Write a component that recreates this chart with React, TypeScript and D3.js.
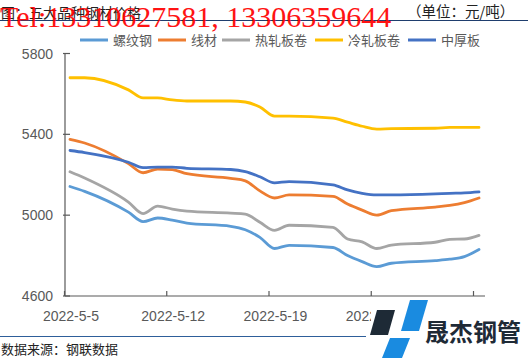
import React from "react";
import * as d3 from "d3";

const dates = [
  "2022-05-05", "2022-05-06", "2022-05-09", "2022-05-10", "2022-05-11", "2022-05-12", "2022-05-13",
  "2022-05-16", "2022-05-17", "2022-05-18", "2022-05-19", "2022-05-20",
  "2022-05-23", "2022-05-24", "2022-05-25", "2022-05-26", "2022-05-27",
  "2022-05-30", "2022-05-31", "2022-06-01", "2022-06-02",
];
const rebar = [5142, 5118, 5015, 4968, 4986, 4975, 4961, 4945, 4928, 4890, 4835, 4851, 4840, 4800, 4770, 4745, 4762, 4775, 4782, 4795, 4830];
const wire = [5375, 5357, 5255, 5210, 5228, 5225, 5205, 5182, 5170, 5120, 5085, 5100, 5093, 5055, 5025, 5000, 5022, 5040, 5048, 5062, 5085];
const hotRolled = [5215, 5184, 5065, 5008, 5045, 5030, 5020, 5010, 5005, 4965, 4925, 4950, 4940, 4882, 4868, 4835, 4852, 4866, 4880, 4882, 4900];
const coldRolled = [5680, 5680, 5620, 5580, 5580, 5570, 5565, 5565, 5560, 5535, 5490, 5490, 5480, 5460, 5440, 5426, 5428, 5430, 5434, 5434, 5434];
const plate = [5320, 5310, 5262, 5235, 5238, 5238, 5232, 5226, 5215, 5190, 5160, 5166, 5150, 5125, 5108, 5100, 5100, 5105, 5108, 5110, 5115];

const seriesNames = ["螺纹钢", "线材", "热轧板卷", "冷轧板卷", "中厚板"];
const seriesValues = [rebar, wire, hotRolled, coldRolled, plate];
const colors = ["#5B9BD5", "#ED7D31", "#A5A5A5", "#FFC000", "#4472C4"];
const yTicks = [4600, 5000, 5400, 5800];
const xTickDates = ["2022-05-05", "2022-05-12", "2022-05-19", "2022-05-26", "2022-06-02"];
const xTickLabels = ["2022-5-5", "2022-5-12", "2022-5-19", "2022-5-26", ""];

const parse = d3.timeParse("%Y-%m-%d");

export default function App() {
  const W = 528, H = 358;
  const x = d3.scaleTime()
    .domain([parse("2022-05-05")!, parse("2022-06-02")!])
    .range([70, 479]);
  const y = d3.scaleLinear().domain([4600, 5800]).range([296, 53.5]);
  const line = d3.line<number>()
    .x((_, i) => x(parse(dates[i])!))
    .y((v) => y(v))
    .curve(d3.curveMonotoneX);

  const axisColor = "#595959";
  const textColor = "#595959";
  const legendX = [80, 158, 222, 315, 408];

  return (
    <svg width={W} height={H} style={{ position: "absolute", left: 0, top: 0, background: "#fff" }}
      fontFamily="'Liberation Sans', Arial, sans-serif">
      <rect x={0} y={0} width={W} height={H} fill="#fff" />
      {/* title */}
      <text x={1} y={18} fontSize={14} fill="#222" fontFamily="'Noto Sans CJK SC', sans-serif">图：五大品种钢材价格</text>
      <text x={407} y={17} fontSize={14.5} fill="#222" fontFamily="'Noto Sans CJK SC', sans-serif">（单位：元/吨）</text>
      <line x1={0} x2={W} y1={20.5} y2={20.5} stroke="#1F3E6E" strokeWidth={1.2} />

      {/* legend */}
      {seriesNames.map((n, i) => (
        <g key={n}>
          <line x1={legendX[i]} x2={legendX[i] + 28} y1={40} y2={40} stroke={colors[i]} strokeWidth={3} />
          <text x={legendX[i] + 33} y={45} fontSize={13} fill={textColor} fontFamily="'Noto Sans CJK SC', sans-serif">{n}</text>
        </g>
      ))}

      {/* y axis */}
      <line x1={65} x2={65} y1={y(5800)} y2={y(4600)} stroke={axisColor} strokeWidth={1.2} />
      {yTicks.map((t) => (
        <g key={t}>
          <line x1={63} x2={70} y1={y(t)} y2={y(t)} stroke={axisColor} strokeWidth={1.2} />
          <text x={53} y={y(t) + 5} fontSize={14} fill={textColor} textAnchor="end">{t}</text>
        </g>
      ))}

      {/* x axis */}
      <line x1={65} x2={485} y1={y(4600)} y2={y(4600)} stroke={axisColor} strokeWidth={1.2} />
      {xTickDates.map((d, i) => {
        const px = x(parse(d)!);
        return (
          <g key={d}>
            <line x1={px - 5.5} x2={px - 5.5} y1={y(4600)} y2={y(4600) - 5} stroke={axisColor} strokeWidth={1.2} />
            {xTickLabels[i] && (
              <text x={px + 1} y={321} fontSize={14} fill={textColor} textAnchor="middle">{xTickLabels[i]}</text>
            )}
          </g>
        );
      })}

      {/* lines */}
      {seriesValues.map((vals, i) => (
        <path key={i} d={line(vals) || ""} fill="none" stroke={colors[i]} strokeWidth={2.8} strokeLinejoin="round" strokeLinecap="round" />
      ))}

      {/* footer */}
      <line x1={0} x2={366} y1={336.5} y2={336.5} stroke="#2E5E9A" strokeWidth={1.2} />
      <text x={1} y={354} fontSize={13} fill="#222" fontFamily="'Noto Sans CJK SC', sans-serif">数据来源：钢联数据</text>

      {/* logo */}
      <rect x={371} y={300} width={157} height={58} fill="#fff" />
      <polygon points="377,310 395,310 388,335 370,335" fill="#1E2A36" />
      <polygon points="410,300 428,300 419,331 401,331" fill="#1A8BE0" />
      <polygon points="390,338 410,338 402,358 382,358" fill="#1A8BE0" />
      <text x={425} y={341} fontSize={24} fontWeight="bold" fill="#1E2A36" fontFamily="'Noto Sans CJK SC', sans-serif">晟杰钢管</text>

      {/* red overlay */}
      <text x={0} y={27} fontSize={30} fill="#FF0000" fontFamily="'Liberation Serif', 'DejaVu Serif', serif" opacity={0.92}>Tel:13310627581, 13306359644</text>
    </svg>
  );
}
